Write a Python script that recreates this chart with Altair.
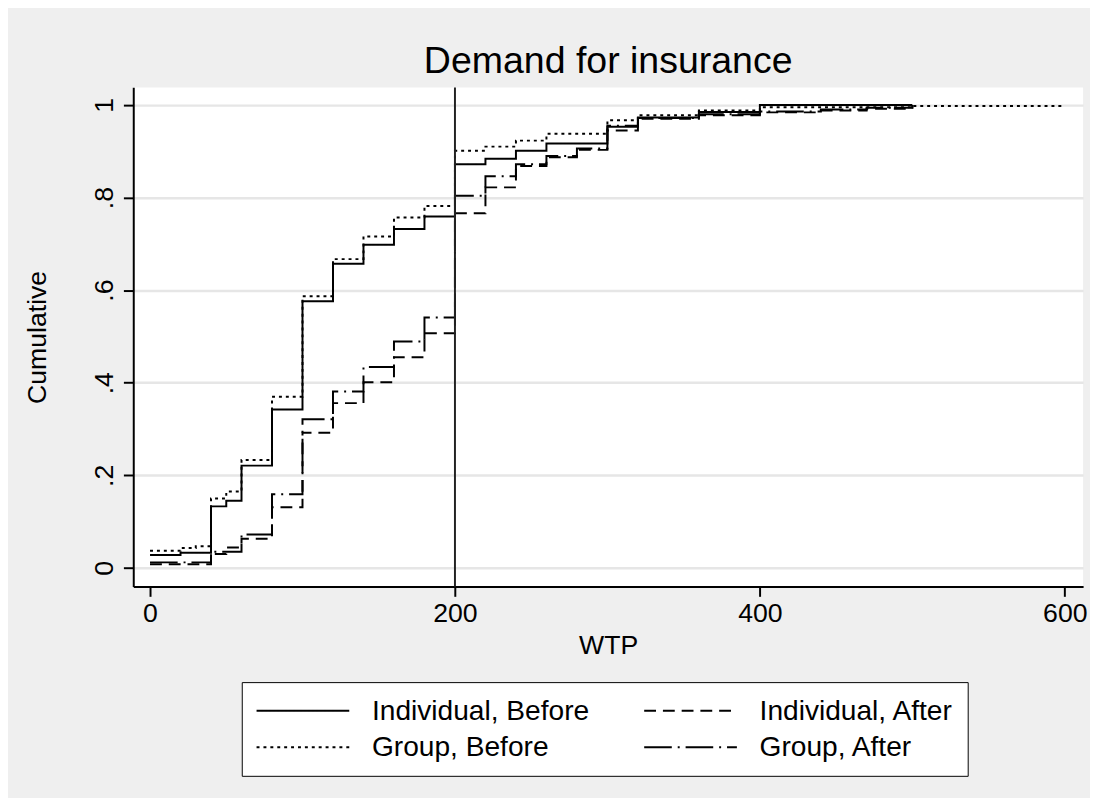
import altair as alt
import pandas as pd

FONT = "Liberation Sans"

series_names = ["Individual, Before", "Individual, After", "Group, Before", "Group, After"]
series_dash = [[1, 0], [12, 7], [3, 4], [28, 6, 2, 6]]

# Individual, Before (solid)
ind_before_x = [0, 20, 40, 50, 60, 80, 100, 120, 140, 160, 180, 200, 220, 240, 260, 300, 320, 360, 400, 500]
ind_before_y = [0.028, 0.033, 0.133, 0.145, 0.221, 0.342, 0.576, 0.657, 0.698, 0.732, 0.759,
                0.872, 0.884, 0.901, 0.917, 0.953, 0.973, 0.985, 1.0, 1.0]

# Individual, After (dashed)
ind_after_x = [0, 40, 50, 60, 80, 100, 120, 140, 160, 180, 200, 220, 240, 260, 280, 300, 320, 360, 400, 440, 470, 500]
ind_after_y = [0.008, 0.030, 0.044, 0.063, 0.131, 0.292, 0.356, 0.401, 0.455, 0.507, 0.766,
               0.822, 0.868, 0.887, 0.903, 0.945, 0.970, 0.978, 0.984, 0.988, 0.992, 1.0]

# Group, Before (dotted)
grp_before_x = [0, 20, 30, 40, 50, 60, 80, 100, 120, 140, 160, 180, 200, 220, 240, 260, 300, 320, 360, 400, 500, 598]
grp_before_y = [0.037, 0.043, 0.047, 0.150, 0.165, 0.233, 0.370, 0.587, 0.667, 0.716, 0.757, 0.782,
                0.901, 0.910, 0.923, 0.938, 0.967, 0.978, 0.988, 0.995, 0.998, 1.0]

# Group, After (dash-dot)
grp_after_x = [0, 40, 60, 80, 100, 120, 140, 160, 180, 200, 220, 240, 260, 280, 300, 320, 360, 400, 440, 470, 500]
grp_after_y = [0.012, 0.035, 0.072, 0.159, 0.321, 0.381, 0.434, 0.489, 0.541, 0.804,
               0.846, 0.872, 0.890, 0.906, 0.955, 0.972, 0.980, 0.986, 0.990, 0.994, 1.0]

x_ticks = [0, 200, 400, 600]
y_ticks = [0, 0.2, 0.4, 0.6, 0.8, 1]
ref_x = [200]

rows = []
for name, xs, ys in [
    (series_names[0], ind_before_x, ind_before_y),
    (series_names[1], ind_after_x, ind_after_y),
    (series_names[2], grp_before_x, grp_before_y),
    (series_names[3], grp_after_x, grp_after_y),
]:
    for xv, yv in zip(xs, ys):
        rows.append({"series": name, "wtp": xv, "cum": yv})
df = pd.DataFrame(rows)

x_scale = alt.Scale(domain=[-11, 612], nice=False, zero=False)
y_scale = alt.Scale(domain=[-0.04, 1.038], nice=False, zero=False)

lines = alt.Chart(df).mark_line(interpolate="step-after", color="black", strokeWidth=2).encode(
    x=alt.X("wtp:Q", scale=x_scale, title="WTP",
            axis=alt.Axis(values=x_ticks, format="d", grid=False)),
    y=alt.Y("cum:Q", scale=y_scale, title="Cumulative",
            axis=alt.Axis(values=y_ticks, grid=True, labelAngle=270, labelAlign="center",
                          labelBaseline="bottom",
                          labelExpr="datum.value == 0 ? '0' : (datum.value == 1 ? '1' : '.' + round(datum.value * 10))")),
    strokeDash=alt.StrokeDash(
        "series:N",
        title=None,
        sort=series_names,
        scale=alt.Scale(domain=series_names, range=series_dash),
        legend=alt.Legend(
            orient="none", legendX=110, legendY=603, columns=2, direction="horizontal",
            symbolType="stroke", symbolSize=8836, symbolStrokeWidth=2,
            symbolStrokeColor="black", clipHeight=30,
            labelFontSize=28.5, labelFont=FONT, labelColor="black", labelOffset=22,
            labelLimit=500, columnPadding=54, rowPadding=7, padding=14,
            strokeColor="black", fillColor="white",
        ),
    ),
)

rule = alt.Chart(pd.DataFrame({"wtp": ref_x})).mark_rule(color="#222222", strokeWidth=2).encode(
    x=alt.X("wtp:Q", scale=x_scale)
)

chart = alt.layer(lines, rule).properties(
    width=963,
    height=506,
    title=alt.TitleParams("Demand for insurance", fontSize=38, font=FONT, fontWeight="normal",
                          anchor="middle", color="black", offset=6),
    padding={"left": 16, "top": 30, "right": 3, "bottom": 16},
    background="#efefef",
).configure_view(
    fill="white", strokeWidth=0
).configure_axis(
    domainColor="black", domainWidth=2, tickColor="black", tickWidth=2, tickSize=10,
    labelFont=FONT, labelFontSize=27, labelColor="black", labelPadding=5,
    titleFont=FONT, titleFontSize=27, titleColor="black", titleFontWeight="normal",
    gridColor="#e6e6e6", gridWidth=2.5,
).configure_axisY(
    titlePadding=40
).configure_axisX(
    titlePadding=6
)

chart.save("out.html", embed_options={"renderer": "svg", "actions": False})
